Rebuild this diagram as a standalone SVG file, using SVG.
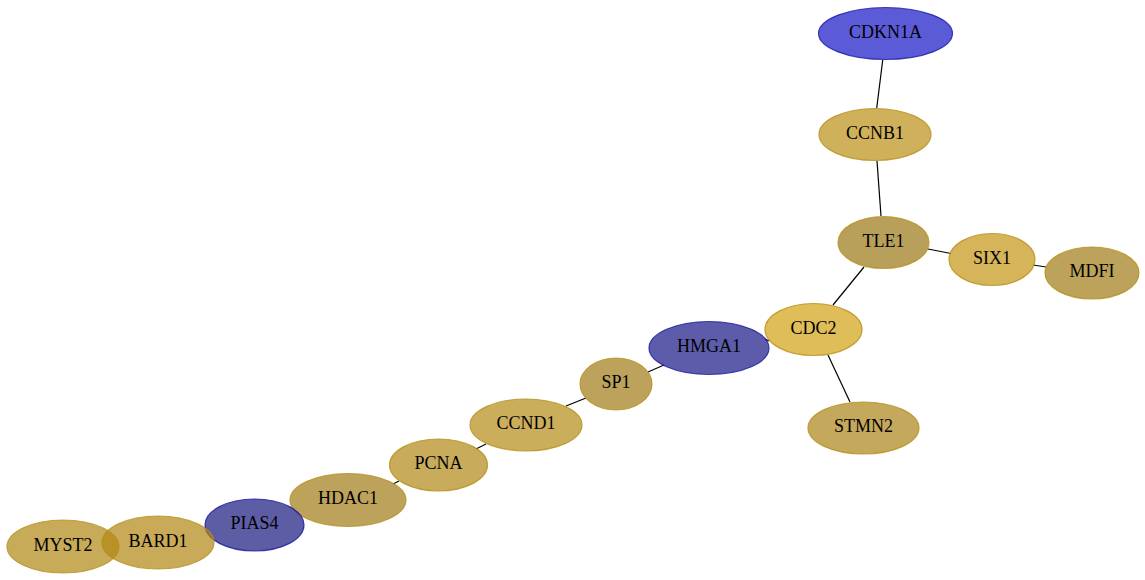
<svg xmlns="http://www.w3.org/2000/svg" width="1145" height="580" viewBox="0 0 1145 580">
<style>
.bg{fill:#ffffff}
.edge{stroke:#000000;stroke-width:1.2;fill:none}
.node ellipse{fill-opacity:0.7;stroke-opacity:0.8;stroke-width:1.2}
.node text{font-family:"Liberation Serif","Times New Roman",serif;font-size:18px;fill:#000000;text-anchor:middle}
.gold ellipse{stroke:#b8901a}
.blue ellipse{stroke:#1a1aa0}
</style>
<rect class="bg" x="0" y="0" width="1145" height="580"/>
<g id="connectors">
<line class="edge" x1="882.7" y1="60" x2="876.7" y2="108"/>
<line class="edge" x1="877" y1="161" x2="881" y2="216"/>
<line class="edge" x1="928" y1="249" x2="951" y2="253.5"/>
<line class="edge" x1="1033" y1="265" x2="1046" y2="267"/>
<line class="edge" x1="864" y1="267" x2="833" y2="305"/>
<line class="edge" x1="828" y1="355" x2="850" y2="402"/>
<line class="edge" x1="765" y1="339" x2="769" y2="341"/>
<line class="edge" x1="664" y1="365" x2="648" y2="372"/>
<line class="edge" x1="586" y1="398" x2="566" y2="406"/>
<line class="edge" x1="476" y1="449" x2="486" y2="444"/>
<line class="edge" x1="393" y1="484" x2="399" y2="481"/>
</g>
<g id="node-CDKN1A" class="node blue"><ellipse cx="885.5" cy="33.5" rx="67" ry="26" fill="#1616c7"/><text x="885.5" y="37.5">CDKN1A</text></g>
<g id="node-CCNB1" class="node gold"><ellipse cx="875" cy="134.5" rx="56" ry="26" fill="#ba8e16"/><text x="875" y="138.5">CCNB1</text></g>
<g id="node-TLE1" class="node gold"><ellipse cx="883.5" cy="242.5" rx="45.5" ry="26" fill="#9a7716"/><text x="883.5" y="246.5">TLE1</text></g>
<g id="node-SIX1" class="node gold"><ellipse cx="992" cy="259.5" rx="43" ry="26" fill="#c49413"/><text x="992" y="263.5">SIX1</text></g>
<g id="node-MDFI" class="node gold"><ellipse cx="1092" cy="273" rx="47" ry="26" fill="#9f7a16"/><text x="1092" y="277">MDFI</text></g>
<g id="node-CDC2" class="node gold"><ellipse cx="813.5" cy="329.5" rx="48.5" ry="26" fill="#d1a113"/><text x="813.5" y="333.5">CDC2</text></g>
<g id="node-STMN2" class="node gold"><ellipse cx="863.5" cy="428" rx="55.5" ry="26" fill="#ab8316"/><text x="863.5" y="432">STMN2</text></g>
<g id="node-HMGA1" class="node blue"><ellipse cx="709" cy="348" rx="60" ry="26.5" fill="#171787"/><text x="709" y="352">HMGA1</text></g>
<g id="node-SP1" class="node gold"><ellipse cx="616" cy="384" rx="36" ry="26" fill="#9f7a16"/><text x="616" y="388">SP1</text></g>
<g id="node-CCND1" class="node gold"><ellipse cx="526" cy="425" rx="56" ry="26" fill="#b58b16"/><text x="526" y="429">CCND1</text></g>
<g id="node-PCNA" class="node gold"><ellipse cx="438.5" cy="465" rx="49" ry="26" fill="#b08716"/><text x="438.5" y="469">PCNA</text></g>
<g id="node-HDAC1" class="node gold"><ellipse cx="348" cy="500" rx="58" ry="26.5" fill="#9f7a16"/><text x="348" y="504">HDAC1</text></g>
<g id="node-PIAS4" class="node blue"><ellipse cx="254.5" cy="525" rx="49.5" ry="26" fill="#181880"/><text x="254.5" y="529">PIAS4</text></g>
<g id="node-BARD1" class="node gold"><ellipse cx="158" cy="542.5" rx="56" ry="26.5" fill="#b08613"/><text x="158" y="546.5">BARD1</text></g>
<g id="node-MYST2" class="node gold"><ellipse cx="63" cy="546.5" rx="56" ry="26.5" fill="#b08713"/><text x="63" y="550.5">MYST2</text></g>
</svg>
